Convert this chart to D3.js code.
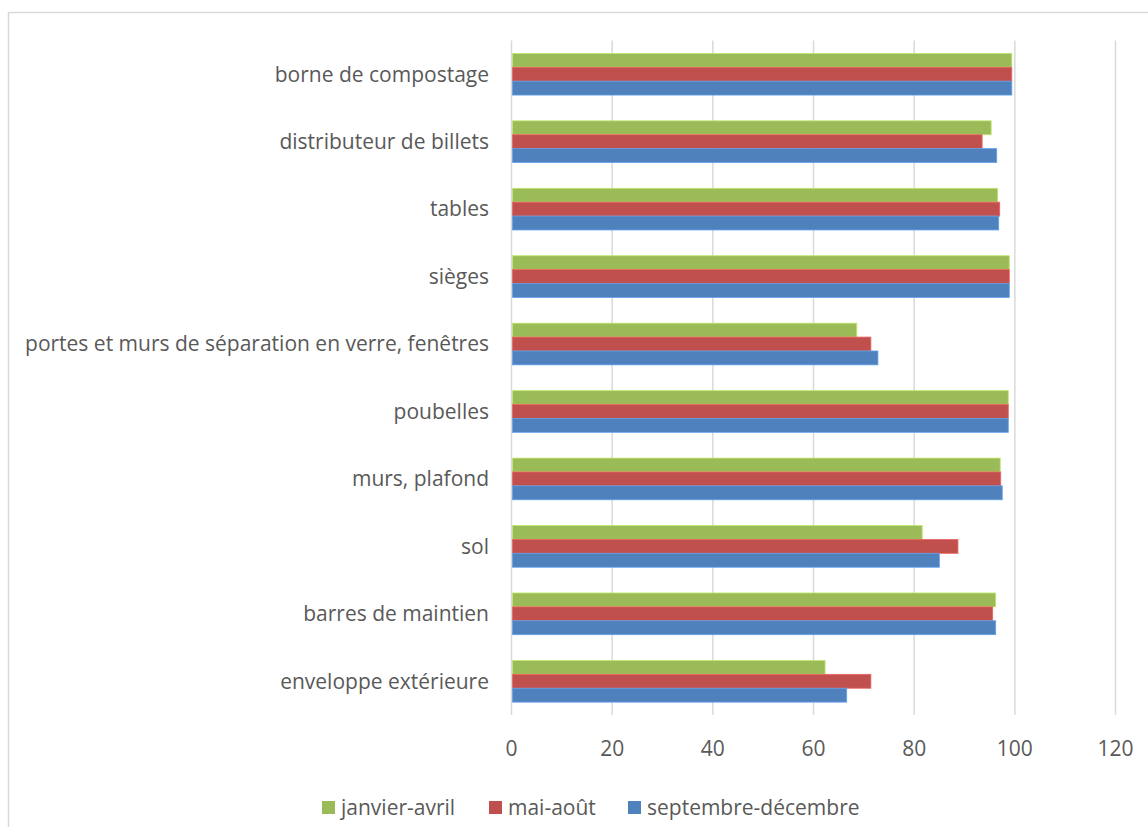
<!DOCTYPE html>
<html>
<head>
<meta charset="utf-8">
<script src="https://cdn.jsdelivr.net/npm/d3@7"></script>
<style>
  html, body { margin: 0; padding: 0; background: #fff; }
  svg { display: block; font-family: "Open Sans", sans-serif; }
  .cat-label, .tick-label, .legend-label { fill: #595959; }
</style>
</head>
<body>
<div id="chart"></div>
<script>
// categories, top to bottom
const categories = [
  'borne de compostage',
  'distributeur de billets',
  'tables',
  'sièges',
  'portes et murs de séparation en verre, fenêtres',
  'poubelles',
  'murs, plafond',
  'sol',
  'barres de maintien',
  'enveloppe extérieure'
];

const seriesNames = ['janvier-avril', 'mai-août', 'septembre-décembre'];
const janvierAvril = [99.4, 95.3, 96.6, 98.9, 68.6, 98.7, 97.1, 81.6, 96.2, 62.3];
const maiAout = [99.4, 93.5, 97.0, 98.9, 71.4, 98.7, 97.2, 88.7, 95.6, 71.4];
const septembreDecembre = [99.4, 96.4, 96.8, 98.9, 72.8, 98.7, 97.5, 85.0, 96.2, 66.6];
const xTicks = [0, 20, 40, 60, 80, 100, 120];

const colors = ['#9BBB59', '#C0504D', '#4F81BD'];

const seriesValues = [janvierAvril, maiAout, septembreDecembre];
const rows = categories.map((c, i) => ({
  category: c,
  values: seriesNames.map((s, j) => ({ series: s, value: seriesValues[j][i] }))
}));

const width = 1148, height = 827;
const plot = { left: 511.5, right: 1115.5, top: 40.5, bottom: 715 };
const fontSize = '21px';

const svg = d3.select('#chart').append('svg')
  .attr('width', width)
  .attr('height', height);

// chart frame
svg.append('rect')
  .attr('x', 8.5).attr('y', 12.5)
  .attr('width', width + 10).attr('height', height + 10)
  .attr('fill', '#fff')
  .attr('stroke', '#D9D9D9')
  .attr('stroke-width', 1.5);

const x = d3.scaleLinear().domain([0, 120]).range([plot.left, plot.right]);
const y0 = d3.scaleBand().domain(categories).range([plot.top, plot.bottom])
  .paddingInner(0.382).paddingOuter(0.191);
const y1 = d3.scaleBand().domain(seriesNames).range([0, y0.bandwidth()]);
const color = d3.scaleOrdinal().domain(seriesNames).range(colors);

// gridlines
svg.append('g')
  .selectAll('line')
  .data(xTicks)
  .join('line')
  .attr('x1', d => x(d)).attr('x2', d => x(d))
  .attr('y1', plot.top).attr('y2', plot.bottom)
  .attr('stroke', '#D9D9D9')
  .attr('stroke-width', 1.5);

// bars
svg.append('g')
  .selectAll('g')
  .data(rows)
  .join('g')
  .attr('transform', d => `translate(0,${y0(d.category)})`)
  .selectAll('rect')
  .data(d => d.values)
  .join('rect')
  .attr('x', x(0) + 1)
  .attr('y', d => y1(d.series))
  .attr('width', d => x(d.value) - x(0) - 1)
  .attr('height', y1.bandwidth())
  .attr('fill', d => color(d.series))
  .attr('stroke', d => d3.color(color(d.series)).brighter(0.6))
  .attr('stroke-width', 0.8);

// category labels
svg.append('g')
  .selectAll('text')
  .data(categories)
  .join('text')
  .attr('class', 'cat-label')
  .attr('x', 489)
  .attr('y', d => y0(d) + y0.bandwidth() / 2)
  .attr('dy', '0.35em')
  .attr('text-anchor', 'end')
  .style('font-size', fontSize)
  .text(d => d);

// x tick labels
svg.append('g')
  .selectAll('text')
  .data(xTicks)
  .join('text')
  .attr('class', 'tick-label')
  .attr('x', d => x(d))
  .attr('y', 756)
  .attr('text-anchor', 'middle')
  .style('font-size', fontSize)
  .text(d => d);

// legend
const legendX = [322, 489, 628];
const legend = svg.append('g')
  .selectAll('g')
  .data(seriesNames)
  .join('g')
  .attr('transform', (d, i) => `translate(${legendX[i]},801)`);

legend.append('rect')
  .attr('width', 13).attr('height', 13)
  .attr('fill', d => color(d));

legend.append('text')
  .attr('class', 'legend-label')
  .attr('x', 19)
  .attr('y', 14)
  .style('font-size', fontSize)
  .text(d => d);
</script>
</body>
</html>
